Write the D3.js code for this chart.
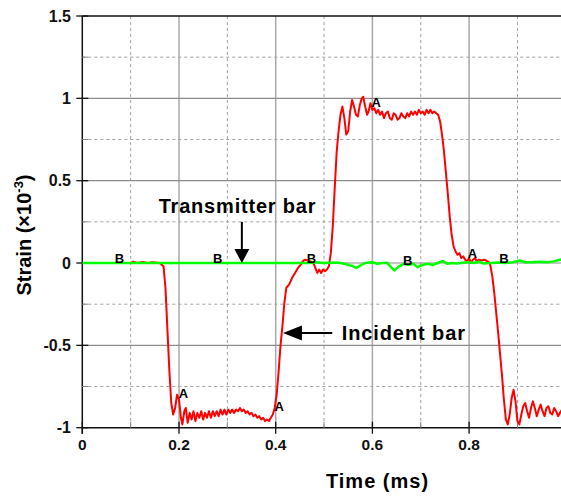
<!DOCTYPE html>
<html>
<head>
<meta charset="utf-8">
<script src="https://cdn.jsdelivr.net/npm/d3@7"></script>
<style>
  body { margin: 0; background: #fff; }
  svg { display: block; font-family: Arial, "Liberation Sans", sans-serif; }
</style>
</head>
<body>
<svg id="chart"></svg>
<script>
// incident bar (red) - time in ms, strain x1e-3
const incidentT = [0, 0.10, 0.105, 0.115, 0.125, 0.135, 0.145, 0.16, 0.168, 0.172, 0.176, 0.18, 0.184, 0.188, 0.192, 0.196,
  0.200, 0.204, 0.207, 0.211, 0.214, 0.218, 0.222, 0.226, 0.230, 0.234, 0.238, 0.242, 0.246, 0.250, 0.254, 0.258, 0.262,
  0.266, 0.270, 0.274, 0.278, 0.282, 0.286, 0.290, 0.294, 0.298, 0.302, 0.306, 0.310, 0.314, 0.318, 0.322, 0.326, 0.330,
  0.334, 0.338, 0.342, 0.346, 0.350, 0.354, 0.358, 0.362, 0.366, 0.370, 0.374, 0.378, 0.382, 0.386, 0.390, 0.394, 0.398,
  0.402, 0.406, 0.410, 0.414, 0.418, 0.422, 0.428, 0.434, 0.440, 0.446, 0.452, 0.456, 0.460, 0.466, 0.472, 0.478, 0.482,
  0.486, 0.490, 0.494, 0.498, 0.502, 0.506, 0.510, 0.514, 0.518, 0.522, 0.526, 0.530, 0.534, 0.538, 0.542, 0.546, 0.550,
  0.554, 0.558, 0.562, 0.566, 0.570, 0.574, 0.578, 0.581, 0.585, 0.589, 0.592, 0.596, 0.600, 0.604, 0.608, 0.612, 0.616,
  0.620, 0.624, 0.628, 0.632, 0.636, 0.640, 0.644, 0.648, 0.652, 0.656, 0.660, 0.664, 0.668, 0.672, 0.676, 0.680, 0.684,
  0.688, 0.692, 0.696, 0.700, 0.704, 0.708, 0.712, 0.716, 0.720, 0.724, 0.728, 0.732, 0.736, 0.740, 0.744, 0.748, 0.752,
  0.756, 0.760, 0.764, 0.768, 0.772, 0.776, 0.780, 0.784, 0.788, 0.792, 0.796, 0.800, 0.804, 0.808, 0.812, 0.816, 0.820,
  0.826, 0.832, 0.838, 0.843, 0.848, 0.852, 0.856, 0.860, 0.864, 0.868, 0.872, 0.876, 0.880, 0.884, 0.888, 0.892, 0.896,
  0.900, 0.904, 0.908, 0.912, 0.916, 0.920, 0.924, 0.928, 0.932, 0.936, 0.940, 0.944, 0.948, 0.952, 0.956, 0.960, 0.964,
  0.968, 0.972, 0.976, 0.980, 0.984, 0.988, 0.992, 0.996, 1.000];
const incidentV = [0, 0, 0.008, 0, 0.006, 0, 0.004, 0, -0.02, -0.15, -0.4, -0.65, -0.85, -0.92, -0.88, -0.80,
  -0.83, -0.94, -0.98, -0.90, -0.88, -0.97, -0.91, -0.95, -0.90, -0.96, -0.91, -0.94, -0.90, -0.95, -0.91, -0.94, -0.90,
  -0.94, -0.90, -0.93, -0.90, -0.93, -0.89, -0.92, -0.89, -0.92, -0.89, -0.91, -0.89, -0.91, -0.89, -0.90, -0.88, -0.90,
  -0.89, -0.91, -0.90, -0.92, -0.91, -0.93, -0.92, -0.94, -0.93, -0.95, -0.94, -0.96, -0.95, -0.96, -0.94, -0.92, -0.88,
  -0.80, -0.66, -0.50, -0.38, -0.24, -0.15, -0.13, -0.09, -0.06, -0.03, -0.01, 0.01, 0.02, 0.015, 0.01, 0.0, -0.03,
  -0.06, -0.04, -0.06, -0.04, -0.05, -0.04, -0.02, 0.06, 0.22, 0.45, 0.67, 0.80, 0.90, 0.95, 0.88, 0.78, 0.80,
  0.92, 0.99, 0.95, 0.90, 0.89, 0.96, 1.0, 1.01, 0.95, 0.90, 0.92, 0.97, 0.93, 0.94, 0.91, 0.93, 0.90,
  0.92, 0.88, 0.91, 0.92, 0.88, 0.87, 0.91, 0.90, 0.87, 0.88, 0.91, 0.89, 0.88, 0.91, 0.89, 0.92, 0.90,
  0.92, 0.90, 0.93, 0.91, 0.92, 0.90, 0.93, 0.91, 0.93, 0.91, 0.92, 0.91, 0.90, 0.86, 0.78, 0.68, 0.55,
  0.42, 0.28, 0.17, 0.10, 0.07, 0.05, 0.06, 0.03, 0.04, 0.02, 0.01, 0.03, 0.0, 0.02, 0.03, 0.01, 0.02,
  0.015, 0.02, 0.01, 0.0, -0.08, -0.18, -0.30, -0.42, -0.55, -0.68, -0.83, -0.95, -0.98, -0.92, -0.82, -0.77, -0.84,
  -0.96, -0.98, -0.92, -0.87, -0.85, -0.90, -0.94, -0.88, -0.84, -0.88, -0.93, -0.89, -0.86, -0.90, -0.93, -0.88, -0.87,
  -0.91, -0.92, -0.88, -0.90, -0.93, -0.91, -0.89, -0.92, -0.93];

// transmitter bar (green)
const transT = [0, 0.47, 0.48, 0.5, 0.52, 0.535, 0.55, 0.56, 0.567, 0.575, 0.585, 0.6, 0.61, 0.62, 0.63, 0.64, 0.646,
  0.655, 0.665, 0.675, 0.685, 0.694, 0.705, 0.715, 0.725, 0.735, 0.746, 0.755, 0.765, 0.775, 0.79, 0.80, 0.81, 0.82,
  0.83, 0.845, 0.86, 0.875, 0.89, 0.905, 0.915, 0.93, 0.945, 0.96, 0.975, 0.988, 1.0];
const transV = [0, 0, 0.005, 0, 0.003, 0, -0.01, -0.02, -0.03, -0.015, 0, 0.005, -0.005, 0, 0.002, -0.03, -0.045,
  -0.02, -0.005, -0.01, -0.005, -0.025, -0.01, -0.005, -0.012, 0, 0.012, -0.005, 0, -0.003, 0.003, 0.005, 0, 0.008,
  -0.003, 0, 0.003, 0, 0.005, 0.015, 0.005, 0.004, 0.008, 0.005, 0.01, 0.02, 0.025];

// A / B markers
const markText = ["B", "B", "B", "B", "B", "A", "A", "A", "A"];
const markT = [0.077, 0.280, 0.474, 0.673, 0.872, 0.209, 0.407, 0.608, 0.807];
const markV = [0, 0, 0, -0.01, 0, -0.82, -0.90, 0.95, 0.03];

const xMajor = [0, 0.2, 0.4, 0.6, 0.8];
const xMinor = [0.1, 0.3, 0.5, 0.7, 0.9];
const yMajor = [1.5, 1, 0.5, 0, -0.5, -1];
const yMinor = [1.25, 0.75, 0.25, -0.25, -0.75];

function init() {
  const width = 561,
    height = 496;

  const svg = d3.select("#chart").attr("width", width).attr("height", height);

  const x = d3.scaleLinear().domain([0, 1]).range([82.3, 565.8]);
  const y = d3.scaleLinear().domain([-1, 1.5]).range([427.7, 16]);

  const grid = svg.append("g");

  grid.selectAll("line.vmin").data(xMinor).join("line")
    .attr("x1", (d) => x(d)).attr("x2", (d) => x(d))
    .attr("y1", y(1.5)).attr("y2", y(-1))
    .attr("stroke", "#a0a0a0").attr("stroke-dasharray", "3,3");

  grid.selectAll("line.hmin").data(yMinor).join("line")
    .attr("x1", x(0)).attr("x2", width)
    .attr("y1", (d) => y(d)).attr("y2", (d) => y(d))
    .attr("stroke", "#a0a0a0").attr("stroke-dasharray", "3,3");

  grid.selectAll("line.vmaj").data(xMajor.slice(1)).join("line")
    .attr("x1", (d) => x(d)).attr("x2", (d) => x(d))
    .attr("y1", y(1.5)).attr("y2", y(-1))
    .attr("stroke", "#a8a8a8").attr("stroke-width", 1.5);

  grid.selectAll("line.hmaj").data(yMajor.slice(1, 5)).join("line")
    .attr("x1", x(0)).attr("x2", width)
    .attr("y1", (d) => y(d)).attr("y2", (d) => y(d))
    .attr("stroke", "#8c8c8c").attr("stroke-width", 1.2);

  // frame
  svg.append("line").attr("x1", x(0)).attr("x2", width).attr("y1", y(1.5)).attr("y2", y(1.5))
    .attr("stroke", "#111").attr("stroke-width", 1.5);
  svg.append("line").attr("x1", x(0)).attr("x2", width).attr("y1", y(-1)).attr("y2", y(-1))
    .attr("stroke", "#111").attr("stroke-width", 1.5);
  svg.append("line").attr("x1", x(0)).attr("x2", x(0)).attr("y1", y(1.5)).attr("y2", y(-1) + 6)
    .attr("stroke", "#111").attr("stroke-width", 1.5);

  // ticks
  svg.selectAll("line.ytick").data(yMajor).join("line")
    .attr("x1", x(0) - 6).attr("x2", x(0) + 6)
    .attr("y1", (d) => y(d)).attr("y2", (d) => y(d))
    .attr("stroke", "#111").attr("stroke-width", 1.3);
  svg.selectAll("line.ymt").data(yMinor).join("line")
    .attr("x1", x(0)).attr("x2", x(0) + 6)
    .attr("y1", (d) => y(d)).attr("y2", (d) => y(d))
    .attr("stroke", "#888");
  svg.selectAll("line.xtick").data(xMajor).join("line")
    .attr("x1", (d) => x(d)).attr("x2", (d) => x(d))
    .attr("y1", y(-1) - 6).attr("y2", y(-1) + 6)
    .attr("stroke", "#111").attr("stroke-width", 1.3);
  svg.selectAll("line.xmt").data(xMinor).join("line")
    .attr("x1", (d) => x(d)).attr("x2", (d) => x(d))
    .attr("y1", y(-1) - 6).attr("y2", y(-1))
    .attr("stroke", "#888");

  svg.selectAll("text.ylab").data(yMajor).join("text")
    .attr("x", 71).attr("y", (d) => y(d) + 5.5)
    .attr("text-anchor", "end")
    .style("font-size", "16px").style("font-weight", "bold").attr("fill", "#111")
    .text((d) => d);
  svg.selectAll("text.xlab").data(xMajor).join("text")
    .attr("x", (d) => x(d)).attr("y", 450)
    .attr("text-anchor", "middle")
    .style("font-size", "15.5px").style("font-weight", "bold").attr("fill", "#111")
    .text((d) => d);

  // axis titles
  svg.append("text")
    .attr("x", 377.5).attr("y", 488)
    .attr("text-anchor", "middle")
    .style("font-size", "20px").style("font-weight", "bold").style("letter-spacing", "1px")
    .text("Time (ms)");
  const yt = svg.append("text")
    .attr("transform", "translate(31,235) rotate(-90)")
    .attr("text-anchor", "middle")
    .style("font-size", "20px").style("font-weight", "bold");
  yt.append("tspan").text("Strain (\u00d710");
  yt.append("tspan").attr("dy", -8).style("font-size", "13px").text("-3");
  yt.append("tspan").attr("dy", 8).text(")");

  // curves
  const clip = svg.append("clipPath").attr("id", "clip").append("rect")
    .attr("x", x(0)).attr("y", y(1.5)).attr("width", width - x(0)).attr("height", y(-1) - y(1.5));

  const line = d3.line().x((d) => x(d[0])).y((d) => y(d[1]));

  svg.append("path")
    .datum(d3.zip(incidentT, incidentV))
    .attr("clip-path", "url(#clip)")
    .attr("d", line)
    .attr("fill", "none").attr("stroke", "#ff0000").attr("stroke-width", 2)
    .attr("stroke-linejoin", "round");

  svg.append("path")
    .datum(d3.zip(transT, transV))
    .attr("clip-path", "url(#clip)")
    .attr("d", line)
    .attr("fill", "none").attr("stroke", "#00ff00").attr("stroke-width", 2.5)
    .attr("stroke-linejoin", "round");

  svg.selectAll("text.mark").data(d3.range(markText.length)).join("text")
    .attr("x", (i) => x(markT[i])).attr("y", (i) => y(markV[i]))
    .attr("text-anchor", "middle")
    .style("font-size", "13px").style("font-weight", "bold").attr("fill", "#000")
    .text((i) => markText[i]);

  // annotations with arrows
  svg.append("text")
    .attr("x", x(0.321)).attr("y", y(0.305))
    .attr("text-anchor", "middle")
    .style("font-size", "20px").style("font-weight", "bold").style("letter-spacing", "0.8px")
    .text("Transmitter bar");
  svg.append("line")
    .attr("x1", x(0.33)).attr("x2", x(0.33)).attr("y1", y(0.25)).attr("y2", y(0.07))
    .attr("stroke", "#000").attr("stroke-width", 2);
  svg.append("path")
    .attr("d", `M${x(0.33) - 7.5},${y(0.085)}L${x(0.33) + 7.5},${y(0.085)}L${x(0.33)},${y(0)}Z`)
    .attr("fill", "#000");

  svg.append("text")
    .attr("x", x(0.5365)).attr("y", y(-0.47))
    .style("font-size", "20px").style("font-weight", "bold").style("letter-spacing", "0.9px")
    .text("Incident bar");
  svg.append("line")
    .attr("x1", x(0.517)).attr("x2", x(0.43)).attr("y1", y(-0.425)).attr("y2", y(-0.425))
    .attr("stroke", "#000").attr("stroke-width", 2);
  svg.append("path")
    .attr("d", `M${x(0.415)},${y(-0.425)}L${x(0.415) + 19},${y(-0.425) - 7.5}L${x(0.415) + 19},${y(-0.425) + 7.5}Z`)
    .attr("fill", "#000");
}

init();
</script>
</body>
</html>
